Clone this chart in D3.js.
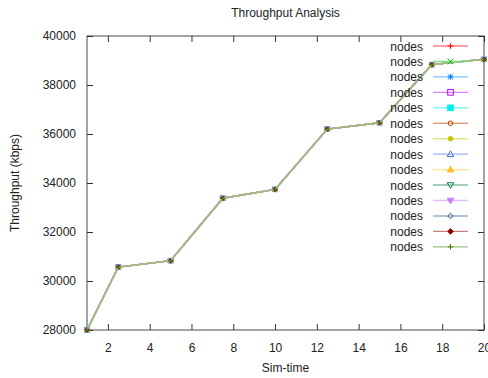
<!DOCTYPE html>
<html>
<head>
<meta charset="utf-8">
<script src="https://cdn.jsdelivr.net/npm/d3@7"></script>
<style>
  html, body { margin: 0; padding: 0; background: #fff; }
  svg text { font-family: "Liberation Sans", Arial, sans-serif; fill: #222; }
</style>
</head>
<body>
<svg id="chart" width="488" height="378"></svg>
<script>
// Sim-time samples and measured throughput (kbps)
const simTime = [1, 2.5, 5, 7.5, 10, 12.5, 15, 17.5, 20];
const throughput = [28000, 30570, 30830, 33380, 33740, 36200, 36460, 38830, 39050];

// Every run in the legend is labelled "nodes"; all share the same measurements
const seriesNames = ["nodes", "nodes", "nodes", "nodes", "nodes", "nodes", "nodes",
                     "nodes", "nodes", "nodes", "nodes", "nodes", "nodes", "nodes"];
const seriesColors = ["#ff0000", "#00c000", "#0080ff", "#c000ff", "#00eeee", "#c04000", "#c8c800",
                      "#4169e1", "#ffc020", "#008040", "#c080ff", "#306080", "#8b0000", "#408000"];
const seriesPoints = ["plus", "cross", "star", "square", "squareFill", "circle", "circleFill",
                      "tri", "triFill", "triDown", "triDownFill", "diamond", "diamondFill", "plus"];

const xTicks = [2, 4, 6, 8, 10, 12, 14, 16, 18, 20];
const yTicks = [28000, 30000, 32000, 34000, 36000, 38000, 40000];

const svg = d3.select("#chart");
const m = { left: 87, right: 484, top: 36, bottom: 330 };

const x = d3.scaleLinear().domain([1, 20]).range([m.left, m.right]);
const y = d3.scaleLinear().domain([28000, 40000]).range([m.bottom, m.top]);

const borderColor = "#666";
const tickColor = "#333";

// Plot border
svg.append("rect")
  .attr("x", m.left).attr("y", m.top)
  .attr("width", m.right - m.left).attr("height", m.bottom - m.top)
  .attr("fill", "none").attr("stroke", borderColor).attr("stroke-width", 1.2);

// Bottom axis with inward ticks, mirrored on top
const xAxis = d3.axisBottom(x).tickValues(xTicks).tickSize(-6).tickPadding(13).tickFormat(d3.format("d"));
const gx = svg.append("g").attr("transform", `translate(0,${m.bottom})`).call(xAxis);
gx.select(".domain").remove();
gx.selectAll("line").attr("stroke", tickColor);
gx.selectAll("text").attr("font-size", 12).style("font-family", "'Liberation Sans', Arial, sans-serif").attr("fill", "#222");

const gxTop = svg.append("g").attr("transform", `translate(0,${m.top})`)
  .call(d3.axisTop(x).tickValues(xTicks).tickSize(-6).tickFormat(""));
gxTop.select(".domain").remove();
gxTop.selectAll("line").attr("stroke", tickColor);

// Left axis with inward ticks, mirrored on the right
const yAxis = d3.axisLeft(y).tickValues(yTicks).tickSize(-6).tickPadding(11).tickFormat(d3.format("d"));
const gy = svg.append("g").attr("transform", `translate(${m.left},0)`).call(yAxis);
gy.select(".domain").remove();
gy.selectAll("line").attr("stroke", tickColor);
gy.selectAll("text").attr("font-size", 12).style("font-family", "'Liberation Sans', Arial, sans-serif").attr("fill", "#222");

const gyRight = svg.append("g").attr("transform", `translate(${m.right},0)`)
  .call(d3.axisRight(y).tickValues(yTicks).tickSize(-6).tickFormat(""));
gyRight.select(".domain").remove();
gyRight.selectAll("line").attr("stroke", tickColor);

// Titles
svg.append("text").attr("x", (m.left + m.right) / 2).attr("y", 17)
  .attr("text-anchor", "middle").attr("font-size", 12).text("Throughput Analysis");
svg.append("text").attr("x", (m.left + m.right) / 2).attr("y", 372)
  .attr("text-anchor", "middle").attr("font-size", 12).text("Sim-time");
svg.append("text").attr("transform", `translate(19,${(m.top + m.bottom) / 2}) rotate(-90)`)
  .attr("text-anchor", "middle").attr("font-size", 12).text("Throughput (kbps)");

// Point glyphs
function drawPoint(g, type, cx, cy, color, r) {
  const solid = type.endsWith("Fill");
  const fill = solid ? color : "none";
  const base = type.replace("Fill", "");
  const s = { stroke: color, "stroke-width": 1, fill: fill };
  const apply = sel => { Object.entries(s).forEach(([k, v]) => sel.attr(k, v)); return sel; };
  if (base === "plus" || base === "star") {
    apply(g.append("path").attr("d", `M${cx - r},${cy}H${cx + r}M${cx},${cy - r}V${cy + r}`));
  }
  if (base === "cross" || base === "star") {
    apply(g.append("path").attr("d", `M${cx - r},${cy - r}L${cx + r},${cy + r}M${cx - r},${cy + r}L${cx + r},${cy - r}`));
  }
  if (base === "square") {
    apply(g.append("rect").attr("x", cx - r).attr("y", cy - r).attr("width", 2 * r).attr("height", 2 * r));
  }
  if (base === "circle") {
    apply(g.append("circle").attr("cx", cx).attr("cy", cy).attr("r", r - 0.5));
  }
  if (base === "tri") {
    apply(g.append("path").attr("d", `M${cx},${cy - r - 0.5}L${cx + r + 0.5},${cy + r - 0.5}L${cx - r - 0.5},${cy + r - 0.5}Z`));
  }
  if (base === "triDown") {
    apply(g.append("path").attr("d", `M${cx},${cy + r + 0.5}L${cx + r + 0.5},${cy - r + 0.5}L${cx - r - 0.5},${cy - r + 0.5}Z`));
  }
  if (base === "diamond") {
    apply(g.append("path").attr("d", `M${cx},${cy - r}L${cx + r},${cy}L${cx},${cy + r}L${cx - r},${cy}Z`));
  }
}

// Lines are drawn in a lightened tint of each series colour
const tint = c => d3.interpolateRgb(c, "#ffffff")(0.5);

const line = d3.line().x((d, i) => x(simTime[i])).y(d => y(d));
const plot = svg.append("g");
const legend = svg.append("g");
const legY0 = 46, legStep = 15.45;

seriesNames.forEach((name, k) => {
  const color = seriesColors[k];
  const g = plot.append("g");
  g.append("path").datum(throughput).attr("d", line)
    .attr("fill", "none").attr("stroke", tint(color)).attr("stroke-width", 1.4);
  throughput.forEach((v, i) => drawPoint(g, seriesPoints[k], x(simTime[i]), y(v), color, 2.2));

  const ly = legY0 + k * legStep;
  legend.append("text").attr("x", 423).attr("y", ly + 4.5)
    .attr("text-anchor", "end").attr("font-size", 12).text(name);
  legend.append("line").attr("x1", 433).attr("x2", 468).attr("y1", ly).attr("y2", ly)
    .attr("stroke", tint(color)).attr("stroke-width", 1.4);
  drawPoint(legend.append("g"), seriesPoints[k], 450.5, ly, color, 2.8);
});
</script>
</body>
</html>
